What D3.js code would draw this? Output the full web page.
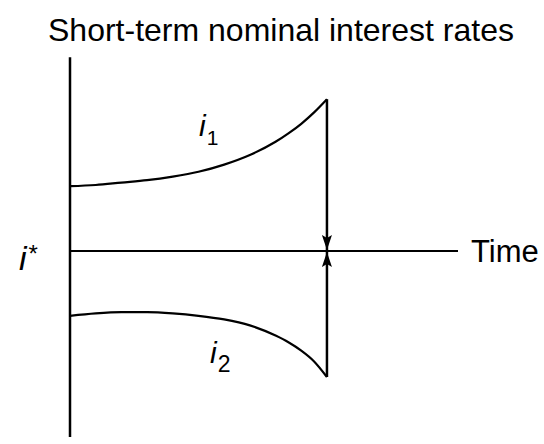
<!DOCTYPE html>
<html>
<head>
<meta charset="utf-8">
<script src="https://cdn.jsdelivr.net/npm/d3@7"></script>
<style>
  body { margin: 0; background: #fff; }
  text { font-family: "Liberation Sans", Arial, Helvetica, sans-serif; fill: #000; }
</style>
</head>
<body>
<div id="chart"></div>
<script>
// time points (shock ends at t = 10), rates relative to i*
var times = [0, 1, 2, 3, 4, 5, 6, 7, 8, 8.5, 9, 9.5, 10];
var rateUpper = [1.08, 1.1, 1.14, 1.18, 1.24, 1.32, 1.44, 1.6, 1.82, 1.96, 2.12, 2.31, 2.53];
var rateLower = [-1.08, -1.04, -1.02, -1.02, -1.04, -1.08, -1.14, -1.24, -1.41, -1.52, -1.66, -1.84, -2.1];
var title = 'Short-term nominal interest rates';
var xLabel = 'Time';

var w = 544;
var h = 444;

var xScale = d3.scaleLinear()
	.domain([0, 15.1])
	.range([70, 458]);
var yScale = d3.scaleLinear()
	.domain([-3, 3])
	.range([251 + 180, 251 - 180]);

var svg = d3.select('#chart')
	.append('svg')
	.attr('width', w)
	.attr('height', h);

var defs = svg.append('defs');
defs.append('marker')
	.attr('id', 'arrow')
	.attr('viewBox', '0 0 15 10')
	.attr('refX', 15)
	.attr('refY', 5)
	.attr('markerUnits', 'userSpaceOnUse')
	.attr('markerWidth', 15)
	.attr('markerHeight', 10)
	.attr('orient', 'auto')
	.append('path')
	.attr('d', 'M0,0 L15,5 L0,10 L3,5 Z')
	.attr('fill', '#000');

// title
svg.append('text')
	.attr('x', 281)
	.attr('y', 41)
	.attr('text-anchor', 'middle')
	.attr('font-size', '32px')
	.text(title);

// vertical axis
svg.append('line')
	.attr('x1', xScale(0)).attr('x2', xScale(0))
	.attr('y1', yScale(3.23)).attr('y2', yScale(-3.1))
	.attr('stroke', '#000')
	.attr('stroke-width', 2.5);

// i* line
svg.append('line')
	.attr('x1', xScale(0)).attr('x2', xScale(15.1))
	.attr('y1', yScale(0)).attr('y2', yScale(0))
	.attr('stroke', '#000')
	.attr('stroke-width', 2);

svg.append('text')
	.attr('x', 471)
	.attr('y', 262)
	.attr('font-size', '31px')
	.text(xLabel);

var istar = svg.append('text')
	.attr('x', 19)
	.attr('y', 270)
	.attr('font-size', '34px')
	.attr('font-style', 'italic');
istar.append('tspan').text('i');
istar.append('tspan').attr('dx', 2).attr('dy', -8).attr('font-size', '24px').attr('font-style', 'normal').text('*');

var line = d3.line()
	.x(function (d, i) { return xScale(times[i]); })
	.y(function (d) { return yScale(d); })
	.curve(d3.curveMonotoneX);

svg.append('path')
	.attr('d', line(rateUpper))
	.attr('fill', 'none')
	.attr('stroke', '#000')
	.attr('stroke-width', 2.2);
svg.append('path')
	.attr('d', line(rateLower))
	.attr('fill', 'none')
	.attr('stroke', '#000')
	.attr('stroke-width', 2.2);

// jump back to i* at the end of the shock
var tEnd = times[times.length - 1];
svg.append('line')
	.attr('x1', xScale(tEnd)).attr('x2', xScale(tEnd))
	.attr('y1', yScale(rateUpper[rateUpper.length - 1]))
	.attr('y2', yScale(0) - 1)
	.attr('stroke', '#000')
	.attr('stroke-width', 2.5)
	.attr('marker-end', 'url(#arrow)');
svg.append('line')
	.attr('x1', xScale(tEnd)).attr('x2', xScale(tEnd))
	.attr('y1', yScale(rateLower[rateLower.length - 1]))
	.attr('y2', yScale(0) + 1)
	.attr('stroke', '#000')
	.attr('stroke-width', 2.5)
	.attr('marker-end', 'url(#arrow)');

// curve labels
var l1 = svg.append('text')
	.attr('x', 199)
	.attr('y', 136)
	.attr('font-size', '30px')
	.attr('font-style', 'italic');
l1.append('tspan').text('i');
l1.append('tspan').attr('dx', 1).attr('dy', 9).attr('font-size', '21px').attr('font-style', 'normal').text('1');

var l2 = svg.append('text')
	.attr('x', 210)
	.attr('y', 363)
	.attr('font-size', '30px')
	.attr('font-style', 'italic');
l2.append('tspan').text('i');
l2.append('tspan').attr('dx', 1).attr('dy', 9).attr('font-size', '23px').attr('font-style', 'normal').text('2');
</script>
</body>
</html>
